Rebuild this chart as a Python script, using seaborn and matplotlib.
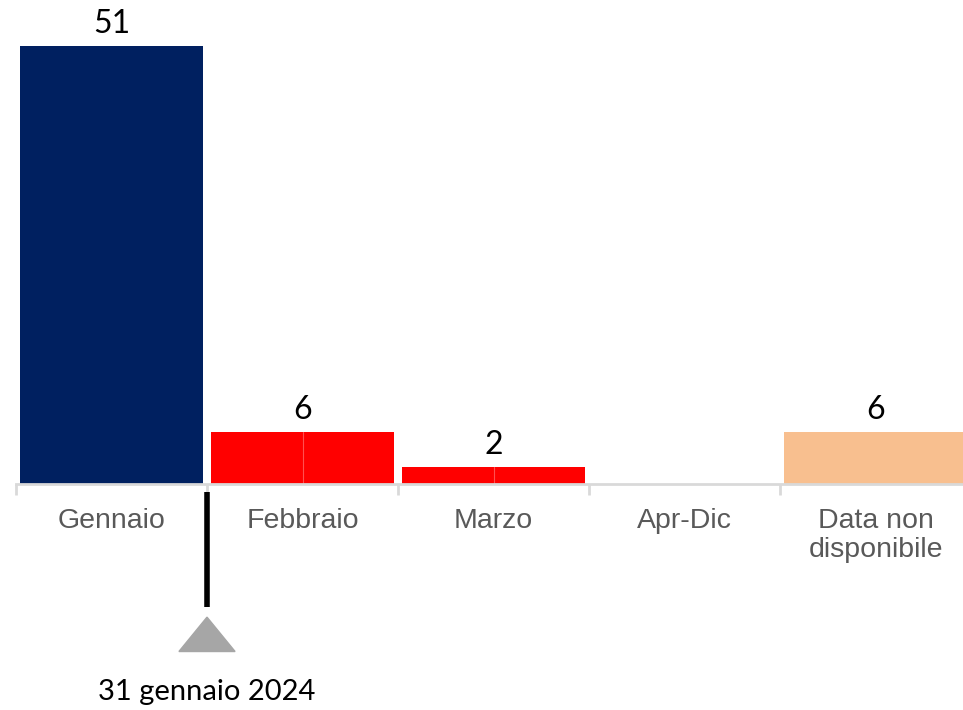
import matplotlib
matplotlib.use("Agg")
import matplotlib.pyplot as plt
import seaborn as sns
import pandas as pd
from matplotlib.patches import Polygon

categories = ["Gennaio", "Febbraio", "Marzo", "Apr-Dic", "Data non\ndisponibile"]
values = [51, 6, 2, 0, 6]
colors = ["#002060", "#FF0000", "#FF0000", "#FF0000", "#F8BF8F"]
marker_label = "31 gennaio 2024"

sns.set_theme(style="white")
plt.rcParams["font.family"] = ["Liberation Sans", "DejaVu Sans"]

df = pd.DataFrame({"cat": categories, "val": values})

fig = plt.figure(figsize=(9.63, 7.10), dpi=100)
W, H = 963, 710
ax = fig.add_axes([16 / W, 226 / H, 955 / W, 484 / H])

sns.barplot(data=df, x="cat", y="val", hue="cat", palette=colors, legend=False,
            width=0.955, ax=ax, saturation=1, linewidth=0)

ax.set_xlim(-0.5, 4.5)
ax.set_ylim(0, 484 / 8.59)
ax.set_xlabel("")
ax.set_ylabel("")
ax.set_yticks([])
for s in ["top", "right", "left"]:
    ax.spines[s].set_visible(False)
ax.spines["bottom"].set_color("#D9D9D9")
ax.spines["bottom"].set_linewidth(2)

ax.set_xticks(range(len(categories)))
ax.set_xticklabels(categories, color="#595959", fontsize=20.5, linespacing=1.18)
ax.tick_params(axis="x", which="major", length=0, pad=17)
ax.set_xticks([i - 0.5 for i in range(len(categories) + 1)], minor=True)
ax.tick_params(axis="x", which="minor", length=8, width=2, color="#D9D9D9",
               bottom=True)

# faint divider inside red bars
for i, v in enumerate(values):
    if colors[i] == "#FF0000" and v > 0:
        ax.plot([i, i], [0, v], color="#FF5050", lw=0.8)

# value labels
for i, v in enumerate(values):
    if v > 0:
        ax.text(i, v + 0.85, str(v), ha="center", va="bottom", fontsize=23,
                family=["Lato", "DejaVu Sans"], color="black")

# timeline marker
ax.plot([0.5, 0.5], [-0.9, -14.3], color="black", lw=4, clip_on=False,
        solid_capstyle="butt")
tri = Polygon([[0.5 - 0.147, -19.5], [0.5 + 0.147, -19.5], [0.5, -15.5]],
              closed=True, color="#A6A6A6", clip_on=False)
ax.add_patch(tri)
ax.text(0.5, -24.2, marker_label, ha="center", va="center", fontsize=21,
        family=["Lato", "DejaVu Sans"], color="black")

fig.savefig("out.png", dpi=100)
